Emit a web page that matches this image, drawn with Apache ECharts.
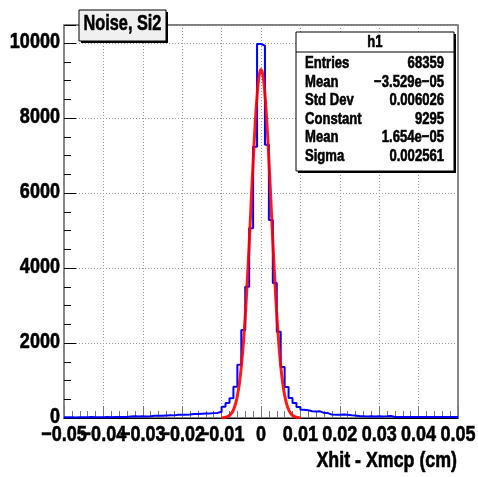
<!DOCTYPE html>
<html><head><meta charset="utf-8">
<script src="https://cdn.jsdelivr.net/npm/echarts@6/dist/echarts.min.js"></script>
<style>html,body{margin:0;padding:0;background:#fff}#c{width:478px;height:477px}</style>
</head><body><div id="c"></div>
<script>
// ---- data ----
const xMin = -0.05, xMax = 0.05, binWidth = 0.001;
const yMax = 10480;
const counts = [
  18,21,16,22,19,20,24,18,23,21,26,22,25,24,28,27,
  40,44,41,46,43,45,
  58,62,60,
  68,72,70,
  85,90,86,92,
  104,108,
  116,120,118,
  130,136,
  165,
  300,400,525,835,1420,2350,3500,5059,7235,9973,9928,7290,5280,3600,2300,1360,830,533,400,293,
  220,205,
  180,175,177,
  135,131,
  90,86,88,92,85,
  72,68,
  46,44,42,45,43,47,41,44,
  55,
  28,26,27,25,29,27,26,28,25,27,26,28,27,25,26,27,26
];
const fitStart = -0.01, fitStep = 0.0005;
const fitValues = [
  4.4,9.3,18.9,36.9,69.3,125,218,365,589,913,1365,1963,2717,3621,4645,5736,6817,7800,8591,9108,
  9295,
  9131,8634,7859,6887,5809,4715,3686,2773,2008,1400,939,607,377,226,130,72.1,38.5,19.8,9.8,4.7
];
const xTickValues = [-0.05,-0.04,-0.03,-0.02,-0.01,0,0.01,0.02,0.03,0.04,0.05];
const xTickLabels = ['\u22120.05','\u22120.04','\u22120.03','\u22120.02','\u22120.01','0','0.01','0.02','0.03','0.04','0.05'];
const yTickValues = [0,2000,4000,6000,8000,10000];
const yTickLabels = ['0','2000','4000','6000','8000','10000'];
const titleText = 'Noise, Si2';
const xTitle = 'Xhit - Xmcp (cm)';
const statsName = 'h1';
const statsLabels = ['Entries','Mean','Std Dev','Constant','Mean','Sigma'];
const statsValues = ['68359','\u22123.529e\u221205','0.006026','9295','1.654e\u221205','0.002561'];

// ---- build ----
const FONT = "'Liberation Sans',Arial,sans-serif";
const histData = counts.map((c, i) => [xMin + i * binWidth, c]);
histData.push([xMax, counts[counts.length - 1]]);
const fitData = fitValues.map((v, i) => [fitStart + i * fitStep, v]);

const chart = echarts.init(document.getElementById('c'), null, {renderer: 'canvas'});
const gridL = 64, gridT = 25, gridW = 394, gridH = 393;

function txt(x, y, s, size, sx, align, z) {
  return {type:'text', x:x, y:y, scaleX:sx, z:z||103,
    style:{text:s, font:"bold "+size+"px "+FONT, fill:'#000', stroke:'#000', lineWidth:0.6, align:align, verticalAlign:'middle'}};
}

const option = {
  backgroundColor: '#fff',
  animation: false,
  grid: {left: gridL, top: gridT, width: gridW, height: gridH, show: true, borderColor: '#000', borderWidth: 1, containLabel: false},
  xAxis: [{
    type: 'value', min: xMin, max: xMax, interval: 0.01,
    axisLine: {show: true, onZero: false, lineStyle: {color: '#000', width: 1}},
    axisTick: {show: true, inside: true, length: 12, lineStyle: {color: '#777', width: 1}},
    minorTick: {show: true, splitNumber: 5, length: 7, lineStyle: {color: '#777', width: 1}},
    splitLine: {show: true, lineStyle: {color: '#999', type: [1, 2], width: 1}},
    axisLabel: {show: false}
  }],
  yAxis: [{
    type: 'value', min: 0, max: yMax, interval: 2000,
    axisLine: {show: true, onZero: false, lineStyle: {color: '#888', width: 2}},
    axisTick: {show: true, inside: true, length: 12, lineStyle: {color: '#000', width: 1}},
    splitLine: {show: true, lineStyle: {color: '#999', type: [1, 2], width: 1}},
    axisLabel: {show: false}
  }, {
    type: 'value', min: 0, max: yMax, interval: 500, position: 'left',
    axisLine: {show: false, onZero: false}, splitLine: {show: false}, axisLabel: {show: false},
    axisTick: {show: true, inside: true, length: 7, lineStyle: {color: '#000', width: 1}}
  }, {
    type: 'value', min: 0, max: yMax, position: 'right',
    axisLine: {show: true, onZero: false, lineStyle: {color: '#888', width: 2}},
    axisTick: {show: false}, splitLine: {show: false}, axisLabel: {show: false}
  }],
  series: [{
    type: 'line', data: histData, step: 'end', symbol: 'none', clip: true,
    lineStyle: {color: '#0000ff', width: 2}, z: 3
  }, {
    type: 'line', data: fitData, smooth: true, symbol: 'none',
    lineStyle: {color: '#ff0000', width: 3, opacity: 0.9}, z: 4
  }]
};
chart.setOption(option);

// ---- text (condensed via scaleX), positioned through the chart's own scales ----
const g = [];
xTickValues.forEach((v, i) => {
  const px = chart.convertToPixel({xAxisIndex: 0}, v);
  g.push(txt(px, 434.5, xTickLabels[i], 22, 0.82, 'center', 50));
});
yTickValues.forEach((v, i) => {
  const py = chart.convertToPixel({yAxisIndex: 0}, v);
  g.push(txt(60, py - 1, yTickLabels[i], 22, 0.82, 'right', 50));
});
g.push(txt(457, 461, xTitle, 22, 0.81, 'right', 50));

// title box
g.push({type:'rect', shape:{x:81,y:12,width:87,height:31}, style:{fill:'#000'}, z:100});
g.push({type:'rect', shape:{x:79,y:10,width:87,height:31}, style:{fill:'#f0f0f0',stroke:'#000',lineWidth:1}, z:101});
g.push(txt(122.5, 24, titleText, 22, 0.74, 'center', 102));

// stats box
const sx = 296, sy = 32, sw = 158, sh = 139;
g.push({type:'rect', shape:{x:sx+2,y:sy+2,width:sw,height:sh}, style:{fill:'#000'}, z:100});
g.push({type:'rect', shape:{x:sx,y:sy,width:sw,height:sh}, style:{fill:'#fff',stroke:'#000',lineWidth:1}, z:101});
g.push({type:'line', shape:{x1:sx,y1:52,x2:sx+sw,y2:52}, style:{stroke:'#000',lineWidth:1}, z:102});
g.push(txt(sx + sw / 2, 42, statsName, 17, 0.77, 'center'));
const rowY = [63.5, 82, 100.5, 119, 137.5, 156];
statsLabels.forEach((l, i) => {
  g.push(txt(305, rowY[i], l, 17, 0.77, 'left'));
  g.push(txt(444, rowY[i], statsValues[i], 17, 0.77, 'right'));
});
chart.setOption({graphic: g});
</script>
</body></html>
